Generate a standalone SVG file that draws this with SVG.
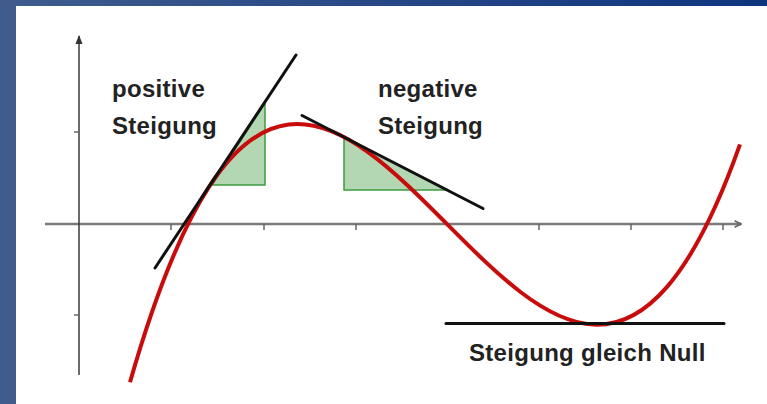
<svg xmlns="http://www.w3.org/2000/svg" width="767" height="404" viewBox="0 0 767 404">
  <defs>
    <linearGradient id="topband" x1="0" y1="0" x2="1" y2="0">
      <stop offset="0" stop-color="#3f5c8d"/>
      <stop offset="1" stop-color="#0f347f"/>
    </linearGradient>
    <marker id="arrowOpen" viewBox="0 0 10 10" refX="9" refY="5" markerWidth="8" markerHeight="8" markerUnits="userSpaceOnUse" orient="auto">
      <path d="M1,1 L9,5 L1,9" fill="none" stroke="#666" stroke-width="2"/>
    </marker>
    <marker id="arrowUp" viewBox="0 0 10 10" refX="9" refY="5" markerWidth="9" markerHeight="9" markerUnits="userSpaceOnUse" orient="auto">
      <path d="M0,1 L10,5 L0,9 Z" fill="#333"/>
    </marker>
  </defs>
  <style>
    .lbl { font-family: "Liberation Sans", Arial, sans-serif; font-weight: bold; font-size: 24px; letter-spacing: 0.3px; fill: #222; }
    .tri { fill: #b3d6b3; stroke: #3f9a3f; stroke-width: 1.5; }
    .tan { stroke: #111; stroke-width: 3; stroke-linecap: round; fill: none; }
    .tick { stroke: #666; stroke-width: 1.5; }
  </style>

  <rect x="0" y="0" width="767" height="404" fill="#3f5c8d"/>
  <rect x="0" y="0" width="767" height="6" fill="url(#topband)"/>
  <rect x="16" y="6" width="751" height="398" fill="#ffffff"/>

  <g id="triangles">
    <polygon class="tri" points="212,185 265,185 265,103"/>
    <polygon class="tri" points="344,137 344,190 448,190"/>
  </g>

  <g id="axes">
    <line x1="45" y1="224" x2="741" y2="224" stroke="#7a7a7a" stroke-width="2.5" marker-end="url(#arrowOpen)"/>
    <line x1="79" y1="375" x2="79" y2="36" stroke="#3a3a3a" stroke-width="1.5" marker-end="url(#arrowUp)"/>
    <line class="tick" x1="74" y1="132" x2="79" y2="132"/>
    <line class="tick" x1="74" y1="315" x2="79" y2="315"/>
    <line class="tick" x1="171" y1="224" x2="171" y2="230"/>
    <line class="tick" x1="264" y1="224" x2="264" y2="230"/>
    <line class="tick" x1="356" y1="224" x2="356" y2="230"/>
    <line class="tick" x1="539" y1="224" x2="539" y2="230"/>
    <line class="tick" x1="631" y1="224" x2="631" y2="230"/>
    <line class="tick" x1="723" y1="224" x2="723" y2="230"/>
  </g>

  <g id="curve">
    <path d="M130,382.3 C333.3,-329.8 536.7,719.6 740,144.4" fill="none" stroke="#c80c0c" stroke-width="4"/>
  </g>

  <g id="connectors">
    <line class="tan" x1="155" y1="268" x2="296" y2="55"/>
    <line class="tan" x1="302" y1="115.5" x2="483" y2="208.5"/>
    <line class="tan" x1="446" y1="323.5" x2="724" y2="323.5"/>
  </g>

  <g id="label-positive">
    <text class="lbl" x="112" y="97">positive</text>
    <text class="lbl" x="112" y="134">Steigung</text>
  </g>
  <g id="label-negative">
    <text class="lbl" x="378" y="97">negative</text>
    <text class="lbl" x="378" y="134">Steigung</text>
  </g>
  <g id="label-null">
    <text class="lbl" x="469" y="361">Steigung gleich Null</text>
  </g>
</svg>
